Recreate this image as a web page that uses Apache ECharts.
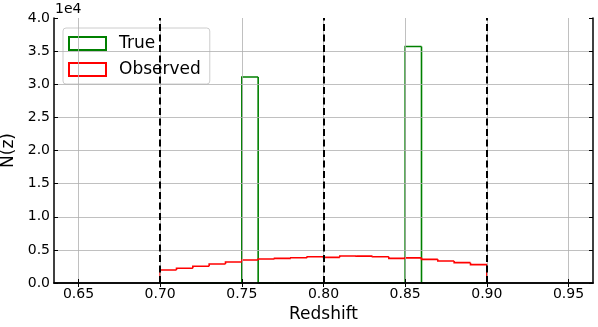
<!DOCTYPE html>
<html>
<head>
<meta charset="utf-8">
<script src="https://cdn.jsdelivr.net/npm/echarts@6/dist/echarts.min.js"></script>
<style>
  html, body { margin: 0; padding: 0; background: #fff; }
  #chart { width: 598px; height: 327px; }
</style>
</head>
<body>
<div id="chart"></div>
<script>
// histogram bin edges (21 edges -> 20 bins)
const binEdges = [0.70, 0.71, 0.72, 0.73, 0.74, 0.75, 0.76, 0.77, 0.78, 0.79,
                  0.80, 0.81, 0.82, 0.83, 0.84, 0.85, 0.86, 0.87, 0.88, 0.89, 0.90];
const trueCounts = [0, 0, 0, 0, 0, 31100, 0, 0, 0, 0,
                    0, 0, 0, 0, 0, 35700, 0, 0, 0, 0];
const observedCounts = [1960, 2220, 2520, 2870, 3170, 3470, 3620, 3720, 3820, 3970,
                        3870, 4070, 4050, 3970, 3720, 3800, 3570, 3320, 3070, 2770];
const xTicks = [0.65, 0.70, 0.75, 0.80, 0.85, 0.90, 0.95];
const yGrid = [5000, 10000, 15000, 20000, 25000, 30000, 35000];
const zBounds = [0.7, 0.8, 0.9];

// one item per bin: [left, right, count, previous count, index]
const binItems = counts => counts.map((c, i) => [binEdges[i], binEdges[i + 1], c, i > 0 ? counts[i - 1] : 0, i]);

// step outline drawn bin by bin (histtype='step')
const stepSeries = (name, color, counts) => ({
    name, type: 'custom', z: 3, color,
    data: binItems(counts),
    renderItem: (params, api) => {
        const l = api.value(0), r = api.value(1), c = api.value(2), prev = api.value(3);
        const last = api.value(4) === counts.length - 1;
        const pts = [api.coord([l, prev]), api.coord([l, c]), api.coord([r, c])];
        if (last) pts.push(api.coord([r, 0]));
        return {
            type: 'polyline',
            shape: { points: pts },
            style: { stroke: color, lineWidth: 1.6, fill: null }
        };
    }
});

const chart = echarts.init(document.getElementById('chart'));
const fontFamily = 'DejaVu Sans';

chart.setOption({
    animation: false,
    textStyle: { fontFamily },
    grid: { left: 54, right: 5, top: 18, bottom: 44, outerBoundsMode: 'none', containLabel: false },
    legend: {
        left: 63, top: 28,
        orient: 'vertical',
        itemWidth: 37, itemHeight: 13, itemGap: 9,
        padding: [7, 9, 6, 5],
        backgroundColor: 'rgba(255,255,255,0.8)',
        borderColor: '#cccccc', borderWidth: 1, borderRadius: 3,
        textStyle: { fontSize: 17, color: '#000', fontFamily, padding: [0, 0, 0, 8] },
        data: [
            { name: 'True', icon: 'rect',
              itemStyle: { color: 'rgba(0,0,0,0)', borderColor: 'green', borderWidth: 2 } },
            { name: 'Observed', icon: 'rect',
              itemStyle: { color: 'rgba(0,0,0,0)', borderColor: 'red', borderWidth: 2 } }
        ]
    },
    graphic: [
        { type: 'text', left: 55, top: 2,
          style: { text: '1e4', fontSize: 14, fill: '#000', fontFamily } }
    ],
    xAxis: [
        {
            type: 'value', min: 0.635, max: 0.965, z: 5,
            name: 'Redshift', nameLocation: 'middle', nameGap: 20,
            nameTextStyle: { fontSize: 17, color: '#000' },
            axisLine: { lineStyle: { color: '#000', width: 1.5 } },
            axisTick: { inside: true, length: 4, customValues: xTicks, lineStyle: { color: '#000' } },
            axisLabel: { customValues: xTicks, fontSize: 14, color: '#000', margin: 4,
                         formatter: v => v.toFixed(2) },
            splitLine: { show: false }
        },
        {
            type: 'value', position: 'top', min: 0.635, max: 0.965, z: 5,
            axisLine: { show: true, lineStyle: { color: '#000', width: 1.5 } },
            axisTick: { inside: true, length: 4, customValues: xTicks, lineStyle: { color: '#000' } },
            axisLabel: { show: false },
            splitLine: { show: false }
        }
    ],
    yAxis: [
        {
            type: 'value', min: 0, max: 40000, interval: 5000, z: 5,
            name: 'N(z)', nameLocation: 'middle', nameGap: 31,
            nameTextStyle: { fontSize: 17, color: '#000' },
            axisLine: { show: true, lineStyle: { color: '#000', width: 1.5 } },
            axisTick: { show: true, inside: true, length: 4, lineStyle: { color: '#000' } },
            axisLabel: { fontSize: 14, color: '#000', margin: 4,
                         formatter: v => (v / 1e4).toFixed(1) },
            splitLine: { show: false }
        },
        {
            type: 'value', position: 'right', min: 0, max: 40000, interval: 5000, z: 5,
            axisLine: { show: true, lineStyle: { color: '#000', width: 1.5 } },
            axisTick: { show: true, inside: true, length: 4, lineStyle: { color: '#000' } },
            axisLabel: { show: false },
            splitLine: { show: false }
        }
    ],
    series: [
        {
            // grid lines at tick positions, kept under the histograms
            type: 'line', data: [], silent: true, z: 1,
            markLine: {
                silent: true, symbol: 'none', label: { show: false },
                lineStyle: { color: '#b0b0b0', width: 0.8, type: 'solid' },
                data: xTicks.map(x => ({ xAxis: x })).concat(yGrid.map(y => ({ yAxis: y })))
            }
        },
        stepSeries('True', 'green', trueCounts),
        stepSeries('Observed', 'red', observedCounts),
        {
            type: 'line', data: [], silent: true, z: 4,
            markLine: {
                silent: true, symbol: 'none', label: { show: false },
                lineStyle: { color: '#000', width: 2, type: [7, 3.5] },
                data: zBounds.map(x => ({ xAxis: x }))
            }
        }
    ]
});
</script>
</body>
</html>
